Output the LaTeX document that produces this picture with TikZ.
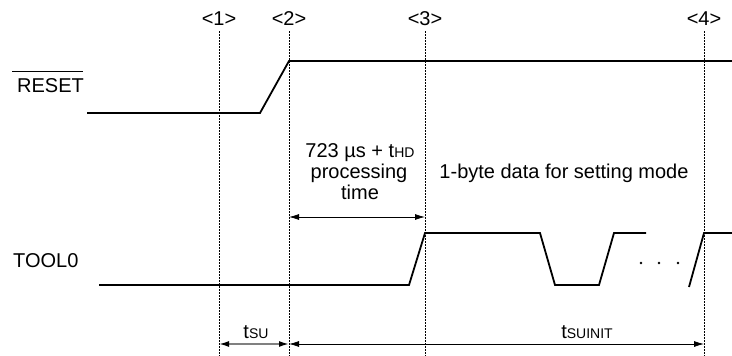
\documentclass[tikz,border=0pt]{standalone}
\usepackage{fontspec}
\setmainfont{Liberation Sans}
\usetikzlibrary{arrows.meta}
\newcommand\subsz{\fontsize{14}{14}\selectfont}
\begin{document}
\begin{tikzpicture}[x=1pt,y=-1pt,
  sig/.style={line width=1.8pt, line join=miter},
  guide/.style={line width=0.9pt, dash pattern=on 2pt off 1pt},
  dim/.style={line width=0.8pt, {Latex[length=10pt,width=6pt]}-{Latex[length=10pt,width=6pt]}},
  graydim/.style={line width=1.6pt, draw={rgb,255:red,128;green,128;blue,128},
    {Latex[length=10pt,width=6pt,color=black]}-{Latex[length=10pt,width=6pt,color=black]}},
  lbl/.style={inner sep=0pt, anchor=base, font=\fontsize{20}{21}\selectfont},
]
\useasboundingbox (0,0) rectangle (732,356);

% guide lines and markers
\foreach \i/\x in {1/219,2/289,3/425,4/704} {
  \node[lbl] (m\i) at (\x,26) {<\i>};
  \coordinate (top\i) at (\x,31);
  \coordinate (bot\i) at (\x,356);
  \draw[guide] (top\i) -- (bot\i);
}

% RESET
\node[lbl, anchor=base west] (reset) at (17,92) {RESET};
\coordinate (ovl) at (12,71);
\coordinate (ovr) at (83,71);
\draw[line width=1pt] (ovl) -- (ovr);
\draw[sig] (87,113) -- (260,113) -- (289,61) -- (732,61);

% TOOL0
\node[lbl, anchor=base west] (tool) at (13,267) {TOOL0};
\draw[sig] (99,285) -- (409,285) -- (425,233) -- (540,233) -- (555,285)
  -- (599,285) -- (614,233) -- (646,233);
\fill (641,263) circle (1.4) (659,263) circle (1.4) (678,263) circle (1.4);
\draw[sig] (689,287) -- (704,233) -- (732,233);

% texts
\node[lbl] (t1) at (360,157) {723 µs + t{\subsz HD}};
\node[lbl] (t2) at (359,178) {processing};
\node[lbl] (t3) at (360,199) {time};
\node[lbl] (t4) at (564,178) {1-byte data for setting mode};
\node[lbl] (tsu) at (256,338) {t{\subsz SU}};
\node[lbl] (tsuinit) at (587,338) {t{\subsz SUINIT}};

% dimension arrows
\coordinate (pa) at (289,217);
\coordinate (pb) at (425,217);
\draw[dim] (pa) -- (pb);
\coordinate (sa) at (219,344);
\coordinate (sb) at (289,344);
\coordinate (sc) at (704,344);
\draw[graydim] (sa) -- (sb);
\draw[dim] (sb) -- (sc);
\end{tikzpicture}
\end{document}
